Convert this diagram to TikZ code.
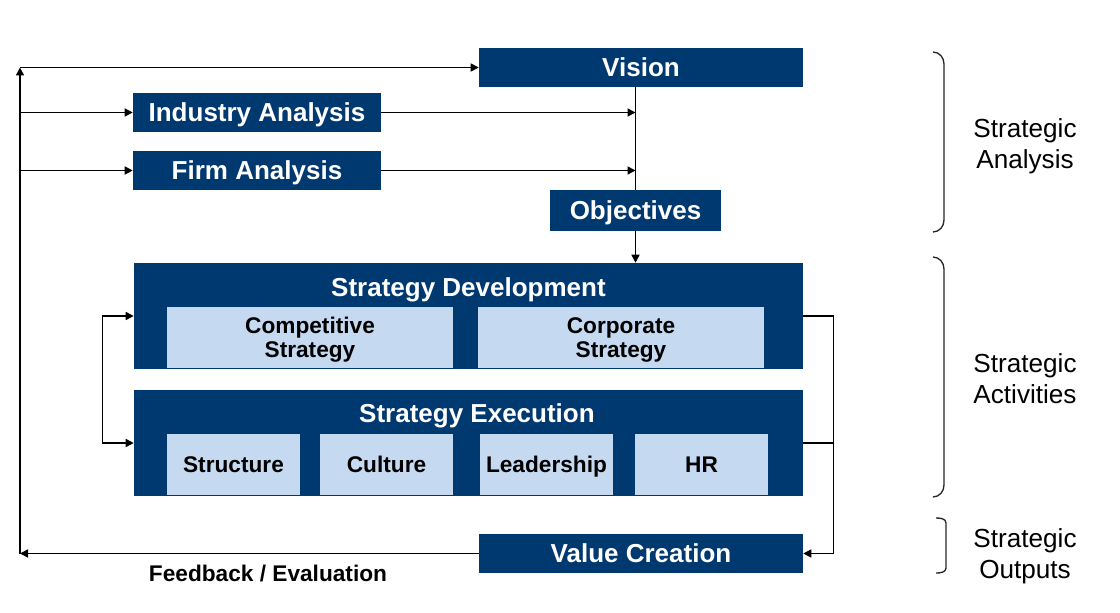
\documentclass[tikz,border=0pt]{standalone}
\usepackage{fontspec}
\setmainfont{Liberation Sans}
\usetikzlibrary{arrows.meta}
\definecolor{dblue}{RGB}{0,56,112}
\definecolor{lblue}{RGB}{197,217,241}
\begin{document}
\begin{tikzpicture}[x=0.75pt,y=-0.75pt,
  darkbox/.style={fill=dblue,draw=none,text=white,font=\fontsize{19.5}{22}\selectfont\bfseries,inner sep=0pt,text height=14pt,text depth=0pt},
  outerbox/.style={fill=dblue,draw=none,inner sep=0pt,minimum width=501.75pt,minimum height=79.5pt},
  titletext/.style={text=white,font=\fontsize{19.5}{22}\selectfont\bfseries,inner sep=0pt,text height=14pt,text depth=0pt},
  lightbox/.style={fill=lblue,draw=none,text=black,align=center,font=\fontsize{17}{18}\selectfont\bfseries,inner sep=0pt,minimum height=45.75pt,text depth=0pt},
  sidelabel/.style={align=center,font=\fontsize{19.6}{23.25}\selectfont,inner sep=0pt,text depth=0pt},
  line/.style={line width=1.1pt,draw=black},
  arr/.style={line width=1.1pt,-{Triangle[length=6pt,width=6pt]}},
  bracestyle/.style={line width=1pt,draw=black!85}]
\useasboundingbox (0,0) rectangle (1120,613);

% top boxes
\node[darkbox,minimum width=243pt,minimum height=29.25pt] (vision) at (641,67.5) {Vision};
\node[darkbox,minimum width=186pt,minimum height=29.25pt] (ind) at (257,112.5) {Industry Analysis};
\node[darkbox,minimum width=186pt,minimum height=29.25pt] (firm) at (257,170.5) {Firm Analysis};
\node[darkbox,minimum width=128.25pt,minimum height=30.75pt] (obj) at (635.5,210.5) {Objectives};

% strategy development
\node[outerbox] (sd) at (468.5,316) {};
\node[titletext] (sdt) at (468.5,287) {Strategy Development};
\node[lightbox,minimum width=214.5pt] (comp) at (310,337.5) {Competitive\\Strategy};
\node[lightbox,minimum width=214.5pt] (corp) at (621,337.5) {Corporate\\Strategy};

% strategy execution
\node[outerbox] (se) at (468.5,443) {};
\node[titletext] (set) at (477,413) {Strategy Execution};
\node[lightbox,minimum width=99.75pt,text height=12.2pt] (str) at (233.5,464.5) {Structure};
\node[lightbox,minimum width=99.75pt,text height=12.2pt] (cul) at (386.5,464.5) {Culture};
\node[lightbox,minimum width=99.75pt,text height=12.2pt] (lead) at (546.5,464.5) {Leadership};
\node[lightbox,minimum width=99.75pt,text height=12.2pt] (hr) at (701.5,464.5) {HR};

% value creation
\node[darkbox,minimum width=243pt,minimum height=29.25pt] (vc) at (641,553.5) {Value Creation};
\node[inner sep=0pt,font=\fontsize{17}{18}\selectfont\bfseries,text height=12.2pt,text depth=0pt] (fb) at (268,573) {Feedback / Evaluation};

% connectors
\draw[line] (vision.south -| obj.north) -- (obj.north);
\draw[arr] (ind.east) -- (ind.east -| obj.north);
\draw[arr] (firm.east) -- (firm.east -| obj.north);
\draw[arr] (obj.south) -- (obj.south |- sd.north);

\draw[line,{Triangle[length=6pt,width=6pt]}-{Triangle[length=6pt,width=6pt]}] (sd.west) -- ++(-31,0) |- (se.west);

\draw[arr] (sd.east) -- ++(30,0) |- (vc.east);
\draw[line] (se.east) -- ++(30,0);

\coordinate (bl) at (20,553.5);
\coordinate (tl) at (20,67.5);
\draw[arr] (vc.west) -- (bl);
\draw[arr] (bl) -- (tl);
\draw[arr] (tl) -- (vision.west);
\draw[arr] (tl |- ind.west) -- (ind.west);
\draw[arr] (tl |- firm.west) -- (firm.west);

% braces
\draw[bracestyle] (933,52) to[out=0,in=90] (944,64) -- (944,220) to[out=-90,in=0] (933,232);
\draw[bracestyle] (933,257) to[out=0,in=90] (944,269) -- (944,485) to[out=-90,in=0] (933,497);
\draw[bracestyle] (936,518) to[out=0,in=90] (946,523) -- (946,568) to[out=-90,in=0] (936,573);

\node[sidelabel] (l1) at (1025,144) {Strategic\\Analysis};
\node[sidelabel] (l2) at (1025,379) {Strategic\\Activities};
\node[sidelabel] (l3) at (1025,554) {Strategic\\Outputs};
\end{tikzpicture}
\end{document}
